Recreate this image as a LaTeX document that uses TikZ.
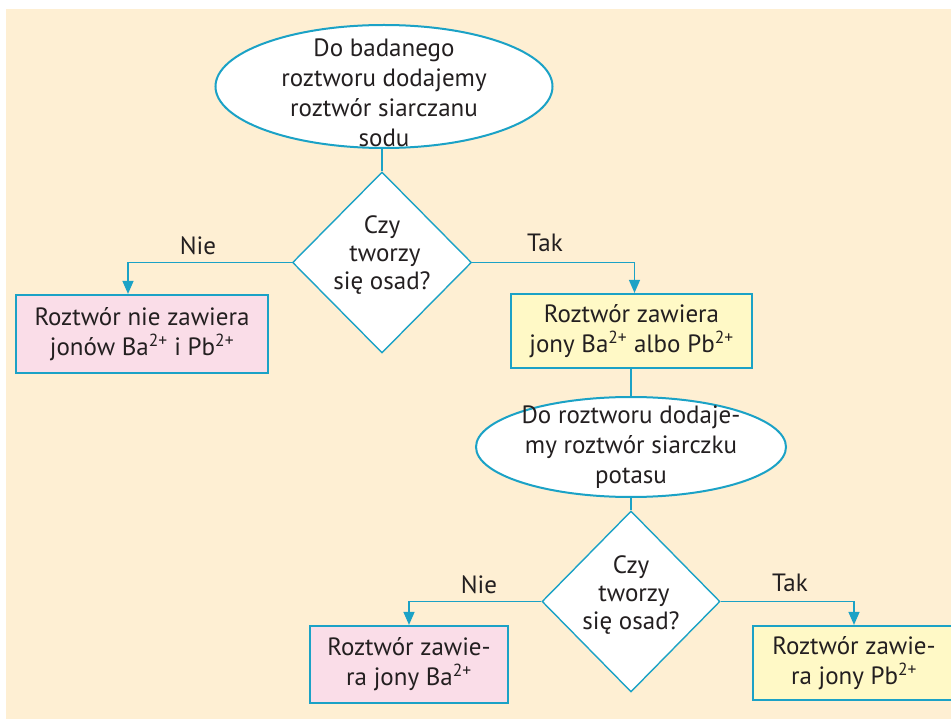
\documentclass[tikz,border=0pt]{standalone}
\usepackage{fontspec}
\setmainfont{PT Sans}
\usepackage{tikz}
\usetikzlibrary{positioning,calc,arrows.meta,shapes.geometric}
\definecolor{Ink}{HTML}{231F20}
\definecolor{Flow}{HTML}{1BA2C6}
\definecolor{Cream}{HTML}{FEEFD3}
\definecolor{BoxPink}{HTML}{FADDE8}
\definecolor{BoxYellow}{HTML}{FFF9C6}
\newcommand{\jon}[1]{#1\textsuperscript{2+}}

\begin{document}
\begin{tikzpicture}[
    x=1pt,
    y=-1pt,
    every node/.style={font=\fontsize{25}{30}\selectfont, text=Ink},
    startbox/.style={ellipse, draw=Flow, line width=2pt, fill=white, inner sep=0pt},
    askbox/.style={diamond, draw=Flow, line width=1.4pt, fill=white, inner sep=0pt},
    resbox/.style={rectangle, draw=Flow, line width=2.2pt, inner sep=0pt, align=center},
    txt/.style={align=center, inner sep=0pt},
    asktxt/.style={txt, font=\fontsize{25}{28}\selectfont},
    conn/.style={Flow, line width=1.4pt},
    flow/.style={conn, -{Triangle[length=13pt,width=11pt]}}
]

% Page and background
\useasboundingbox (0,0) rectangle (951,719);
\fill[Cream] (6,9) rectangle (951,719);

% First test: sodium sulfate
\node[startbox, minimum width=337pt, minimum height=123pt] (start1) at (384,86.5) {};
\node[txt] (start1txt) at ([yshift=-6pt]start1.center)
    {Do badanego\\roztworu dodajemy\\roztwór siarczanu\\sodu};

\node[askbox, minimum width=179pt, minimum height=181pt] (ask1) at (382,262.5) {};
\node[asktxt] (ask1txt) at ([yshift=7pt]ask1.center) {Czy\\\hspace{6pt}tworzy\\się osad?};
\draw[conn] (ask1.north |- start1.south) -- (ask1.north);

\node[resbox, fill=BoxPink, minimum width=252pt, minimum height=78pt] (no1) at (142,334)
    {Roztwór nie zawiera\\jonów \jon{Ba} i \jon{Pb}};
\node[resbox, fill=BoxYellow, minimum width=241pt, minimum height=74pt] (yes1) at (631.5,331)
    {Roztwór zawiera\\jony \jon{Ba} albo \jon{Pb}};

\draw[flow] (ask1.west) -| ([xshift=-14pt]no1.north);
\draw[flow] (ask1.east) -| ([xshift=3pt]yes1.north);
\node (nie1) at (198,246) {Nie};
\node (tak1) at (545,243) {Tak};

% Second test: potassium sulfide
\node[startbox, minimum width=310pt, minimum height=100pt] (start2) at (631,447) {};
\node[txt] (start2txt) at (start2.center)
    {Do roztworu dodaje-\\my roztwór siarczku\\potasu};
\draw[conn] (yes1.south -| start2.north) -- (start2.north);

\node[askbox, minimum width=178pt, minimum height=181pt] (ask2) at (631,601.5) {};
\node[asktxt] (ask2txt) at ([yshift=6pt]ask2.center) {Czy\\\hspace{6pt}tworzy\\się osad?};
\draw[conn] (ask2.north |- start2.south) -- (ask2.north);

\node[resbox, fill=BoxPink, minimum width=198pt, minimum height=77pt] (no2) at (409,664.5)
    {Roztwór zawie-\\ra jony \jon{Ba}};
\node[resbox, fill=BoxYellow, minimum width=202pt, minimum height=74pt] (yes2) at (854,663)
    {Roztwór zawie-\\ra jony \jon{Pb}};

\draw[flow] (ask2.west) -| (no2.north);
\draw[flow] (ask2.east) -| (yes2.north);
\node (nie2) at (479,585) {Nie};
\node (tak2) at (790,583) {Tak};

\end{tikzpicture}
\end{document}
